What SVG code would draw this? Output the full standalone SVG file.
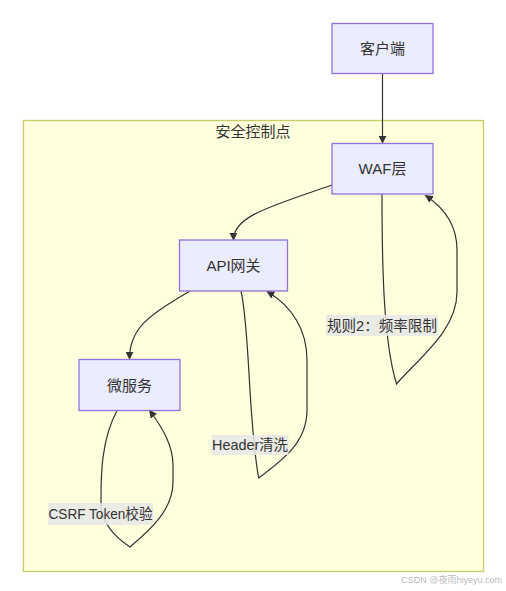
<svg xmlns="http://www.w3.org/2000/svg" width="506" height="591" viewBox="0 0 506 591">
<style>
text{font-family:"Liberation Sans","Noto Sans CJK SC",sans-serif;fill:#333;}
.node rect{fill:#ECECFF;stroke:#9370DB;stroke-width:1.3;}
.nt{font-size:15px;text-anchor:middle;dominant-baseline:central;}
.edge{fill:none;stroke:#333;stroke-width:1.2;}
.lbg{fill:#e8e8e8;opacity:0.85;}
.lt{font-size:14.5px;text-anchor:middle;dominant-baseline:central;}
</style>
<defs>
<marker id="arr" viewBox="0 0 10 10" refX="9" refY="5" markerWidth="8" markerHeight="8" orient="auto" markerUnits="userSpaceOnUse">
<path d="M0,0 L10,5 L0,10 z" fill="#333"/>
</marker>
</defs>
<rect width="506" height="591" fill="#fff"/>
<g id="subgraph-security">
<rect x="23.5" y="120.5" width="460" height="451" fill="#ffffde" stroke="#cccc66" stroke-width="1.3"/>
<text x="253" y="131" class="nt">安全控制点</text>
</g>
<g id="connectors">
<path class="edge" d="M382.5,73.5 L382.5,143" marker-end="url(#arr)"/>
<path class="edge" d="M332,185 C 272,206 233,216 233.5,240" marker-end="url(#arr)"/>
<path class="edge" d="M190,291 C 152,314 129.5,326 129.5,359" marker-end="url(#arr)"/>
<path class="edge" d="M382,194 C 382,260 383,340 396.5,384 C 420,357 457,330 457,292 L457,250 C 457,226 446,209 425.5,195.5" marker-end="url(#arr)"/>
<path class="edge" d="M241,291 C 250,330 248,420 258.7,478 C 284,459 307,442 307,410 L307,360 C 307,330 292,306 267,291.5" marker-end="url(#arr)"/>
<path class="edge" d="M117.3,410 C 100,442 101,480 101,505 C 102,525 118,539 130,547 C 150,530 173,510 173,482 L173,465 C 173,445 162,427 149.5,410.5" marker-end="url(#arr)"/>
<g id="label-waf">
<rect class="lbg" x="326" y="315" width="112" height="21"/>
<text class="lt" x="382" y="325.5" textLength="110" lengthAdjust="spacingAndGlyphs">规则2：频率限制</text>
</g>
<g id="label-api">
<rect class="lbg" x="211.5" y="435" width="77" height="20"/>
<text class="lt" x="250" y="445" textLength="76" lengthAdjust="spacingAndGlyphs">Header清洗</text>
</g>
<g id="label-ms">
<rect class="lbg" x="48" y="503" width="105" height="22"/>
<text class="lt" x="100.5" y="514" textLength="104" lengthAdjust="spacingAndGlyphs">CSRF Token校验</text>
</g>
</g>
<g id="node-client" class="node">
<rect x="332" y="23.5" width="101" height="50"/>
<text class="nt" x="382.5" y="48.5">客户端</text>
</g>
<g id="node-waf" class="node">
<rect x="332" y="143.5" width="101" height="50.5"/>
<text class="nt" x="382.5" y="168.5">WAF层</text>
</g>
<g id="node-api" class="node">
<rect x="179.5" y="240" width="108" height="51"/>
<text class="nt" x="233.5" y="265.5">API网关</text>
</g>
<g id="node-ms" class="node">
<rect x="79" y="359.5" width="101" height="51"/>
<text class="nt" x="129.5" y="385">微服务</text>
</g>
<text x="502" y="583" font-size="9" text-anchor="end" style="fill:#bbb">CSDN @夜雨hiyeyu.com</text>
</svg>
